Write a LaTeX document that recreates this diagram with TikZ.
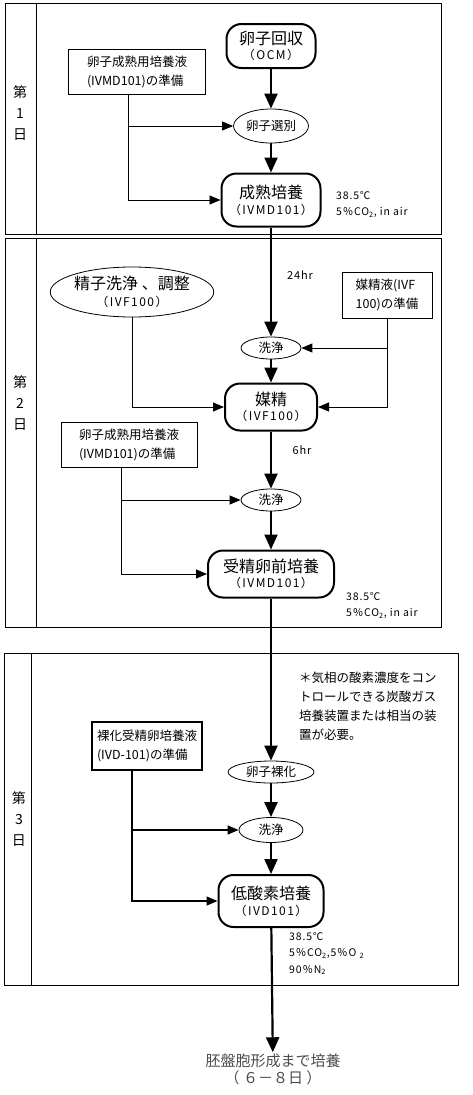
\documentclass[tikz,border=0pt]{standalone}
\usepackage{fontspec}
\setmainfont{Noto Sans CJK JP}
\newfontfamily\codefont[LetterSpace=12]{Noto Sans CJK JP}
\newfontfamily\condfont[LetterSpace=8]{Noto Sans CJK JP}
\usetikzlibrary{arrows.meta,shapes.geometric,positioning}

\newcommand{\flowtitle}{\fontsize{16}{19}\selectfont}
\newcommand{\flowcode}{\codefont\fontsize{12}{14}\selectfont}

\begin{document}
\begin{tikzpicture}[x=1pt,y=-1pt,
    mainbox/.style = {draw, line width=2pt, rounded corners=15pt, align=center, inner sep=0pt},
    prepbox/.style = {draw, line width=0.8pt, align=left, inner sep=0pt, font=\fontsize{12.5}{19}\selectfont},
    oval/.style = {draw, ellipse, line width=0.8pt, inner sep=0pt, align=center, font=\fontsize{12.5}{15}\selectfont},
    flow/.style = {-{Triangle[length=15pt,width=13pt]}, line width=2.2pt},
    side/.style = {-{Triangle[length=11pt,width=9pt]}, line width=0.9pt},
    frame/.style = {line width=0.8pt},
    day/.style = {align=center, inner sep=0pt, font=\fontsize{14}{21}\selectfont},
    cond/.style = {align=left, inner sep=0pt, anchor=north west, font=\condfont\fontsize{10.5}{16.5}\selectfont}]
    \useasboundingbox (0,0) rectangle (473,1095);
    % day frames
    \draw[frame] (5,3) rectangle (441,234) (36,3) -- (36,234);
    \draw[frame] (5,238) rectangle (441,627) (36,238) -- (36,627);
    \draw[frame] (4,653) rectangle (458,985) (31,653) -- (31,985);
    \node[day] (day1) at (20,113) {第\\1\\日};
    \node[day] (day2) at (20,403) {第\\2\\日};
    \node[day] (day3) at (19,819) {第\\3\\日};
    % day 1
    \node[mainbox, minimum width=89pt, minimum height=44pt] (collect) at (271,46) {{\flowtitle 卵子回収}\\[3pt]{\flowcode （OCM）}};
    \node[prepbox, minimum width=137pt, minimum height=45pt] (prep1) at (137,72) {卵子成熟用培養液\\(IVMD101)の準備};
    \node[oval, minimum width=75pt, minimum height=34pt] (select) at (271,126) {卵子選別};
    \node[mainbox, minimum width=99pt, minimum height=53pt] (mature) at (271,200) {{\flowtitle 成熟培養}\\[4pt]{\flowcode （IVMD101）}};
    \node[cond] (cond1) at (336,191) {38.5℃\\5％CO\textsubscript{2}, in air};
    %
    \draw[flow] (collect) -- (select);
    \draw[flow] (select) -- (mature);
    \draw[side] ([xshift=-9pt]prep1.south) |- (select);
    \draw[side] ([xshift=-9pt]prep1.south) |- (mature);
    % day 2
    \node[oval, minimum width=141pt, minimum height=50pt] (sperm) at (132,292) {{\flowtitle 精子洗浄 、調整}\\[2pt]{\flowcode （IVF100）}};
    \node[prepbox, minimum width=90pt, minimum height=46pt] (prep2) at (387,295) {媒精液(IVF\\ 100)の準備};
    \node[oval, minimum width=60pt, minimum height=22pt] (wash1) at (271,348) {洗浄};
    \node[mainbox, minimum width=92pt, minimum height=47pt] (ivf) at (271,407) {{\flowtitle 媒精}\\[3pt]{\flowcode （IVF100）}};
    \node[prepbox, minimum width=136pt, minimum height=45pt] (prep3) at (129,445) {卵子成熟用培養液\\(IVMD101)の準備};
    \node[oval, minimum width=60pt, minimum height=22pt] (wash2) at (271,500) {洗浄};
    \node[mainbox, minimum width=126pt, minimum height=47pt] (precult) at (271,574) {{\flowtitle 受精卵前培養}\\[3pt]{\flowcode （IVMD101）}};
    \node[cond] (cond2) at (346,592) {38.5℃\\5％CO\textsubscript{2}, in air};
    \node[font=\condfont\fontsize{11}{13}\selectfont] (t24) at (300,275) {24hr};
    \node[font=\condfont\fontsize{11}{13}\selectfont] (t6) at (302,450) {6hr};
    %
    \draw[flow] (mature) -- (wash1);
    \draw[flow] (wash1) -- (ivf);
    \draw[flow] (ivf) -- (wash2);
    \draw[flow] (wash2) -- (precult);
    \draw[side] (sperm.south) |- (ivf);
    \draw[side] (prep2.south) |- (wash1);
    \draw[side] (prep2.south) |- (ivf);
    \draw[side] ([xshift=-8pt]prep3.south) |- (wash2);
    \draw[side] ([xshift=-8pt]prep3.south) |- (precult);
    % day 3
    \node[cond, font=\rmfamily\fontsize{12.5}{19}\selectfont] (note) at (299,672) {＊気相の酸素濃度をコン\\トロールできる炭酸ガス\\培養装置または相当の装\\置が必要。};
    \node[prepbox, line width=1.8pt, minimum width=110pt, minimum height=48pt] (prep4) at (147,746) {裸化受精卵培養液\\(IVD-101)の準備};
    \node[oval, minimum width=86pt, minimum height=22pt] (nude) at (271,772) {卵子裸化};
    \node[oval, minimum width=64pt, minimum height=25pt] (wash3) at (271,830) {洗浄};
    \node[mainbox, minimum width=105pt, minimum height=52pt] (lowox) at (271,901) {{\flowtitle 低酸素培養}\\[4pt]{\flowcode （IVD101）}};
    \node[cond] (cond3) at (289,932) {38.5℃\\5％CO\textsubscript{2},5％O \textsubscript{2}\\90％N\textsubscript{2}};
    \node[align=center, inner sep=1pt, text=black!70, font=\fontsize{15}{17}\selectfont] (goal) at (273,1069) {胚盤胞形成まで培養\\（ ６－８日 ）};
    %
    \draw[flow] (precult) -- (nude);
    \draw[flow] (nude) -- (wash3);
    \draw[flow] (wash3) -- (lowox);
    \draw[flow] (lowox) -- (goal);
    \draw[side, line width=1.3pt] ([xshift=-15pt]prep4.south) |- (wash3);
    \draw[side, line width=1.3pt] ([xshift=-15pt]prep4.south) |- (lowox);
\end{tikzpicture}
\end{document}
